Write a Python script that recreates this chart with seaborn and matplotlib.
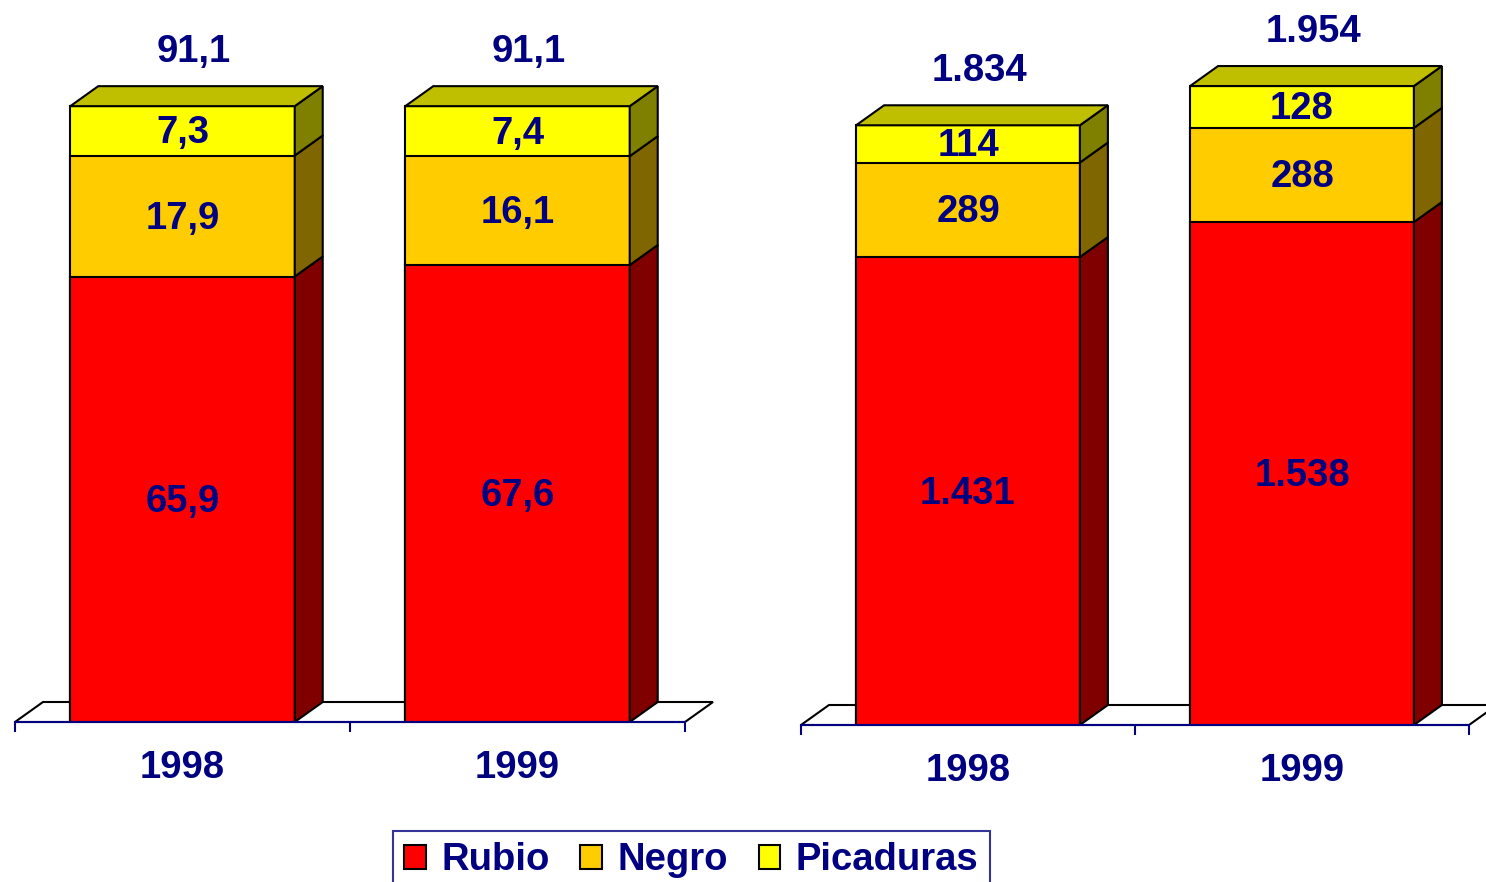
import matplotlib
matplotlib.use("Agg")
import matplotlib.pyplot as plt
from matplotlib.patches import Polygon, Patch
import numpy as np
import pandas as pd
import seaborn as sns

# ---- data -------------------------------------------------------------
years = ["1998", "1999"]
series = ["Rubio", "Negro", "Picaduras"]

left_rubio = [65.9, 67.6]
left_negro = [17.9, 16.1]
left_picaduras = [7.3, 7.4]

right_rubio = [1431, 1538]
right_negro = [289, 288]
right_picaduras = [114, 128]

# ---- style ------------------------------------------------------------
front_colors = ["#FF0000", "#FFCC00", "#FFFF00"]
side_colors = ["#800000", "#806600", "#808000"]
top_color = "#BFBF00"
navy = "#000080"

W, H, DPI = 1486, 882, 100
BAR_W = 0.67
DX_PX, DY_PX = 28, 20
FS = 27.5

sns.set_theme(style="white")
plt.rcParams["font.family"] = ["Liberation Sans", "DejaVu Sans"]

fig = plt.figure(figsize=(W / DPI, H / DPI), dpi=DPI)


def fmt_dec(v):
    return f"{v:.1f}".replace(".", ",")


def fmt_int(v):
    return f"{int(round(v)):,}".replace(",", ".")


def panel(x_px, base_px, w_px, h_px, ymax, stacks, fmt):
    ax = fig.add_axes([x_px / W, (H - base_px) / H, w_px / W, h_px / H])
    stacks = np.asarray(stacks, dtype=float)
    cum = np.cumsum(stacks, axis=0)

    # front faces: stacked by overdrawing cumulative totals, top segment first
    for i in reversed(range(len(series))):
        df = pd.DataFrame({"year": years, "value": cum[i]})
        sns.barplot(data=df, x="year", y="value", color=front_colors[i],
                    saturation=1, width=BAR_W, edgecolor="black",
                    linewidth=1.5, ax=ax, zorder=3)

    ax.set_xlim(-0.5, 1.5)
    ax.set_ylim(0, ymax)
    dx = DX_PX / w_px * 2.0
    dy = DY_PX / h_px * ymax

    # floor of the 3-D box
    floor = Polygon([(-0.5, 0), (-0.5 + dx, dy), (1.5 + dx, dy), (1.5, 0)],
                    closed=True, facecolor="white", edgecolor="black",
                    linewidth=1.5, zorder=1, clip_on=False)
    ax.add_patch(floor)

    for j in range(len(years)):
        x0 = j - BAR_W / 2
        x1 = j + BAR_W / 2
        for i in range(len(series)):
            y0 = cum[i - 1][j] if i > 0 else 0.0
            y1 = cum[i][j]
            side = Polygon([(x1, y0), (x1 + dx, y0 + dy), (x1 + dx, y1 + dy), (x1, y1)],
                           closed=True, facecolor=side_colors[i], edgecolor="black",
                           linewidth=1.5, zorder=3, clip_on=False)
            ax.add_patch(side)
            ax.annotate(fmt(stacks[i][j]), xy=(j, (y0 + y1) / 2), xytext=(0, -1.8),
                        textcoords="offset points", ha="center", va="center",
                        color=navy, fontsize=FS, fontweight="bold", zorder=5)
        ytop = cum[-1][j]
        top = Polygon([(x0, ytop), (x0 + dx, ytop + dy), (x1 + dx, ytop + dy), (x1, ytop)],
                      closed=True, facecolor=top_color, edgecolor="black",
                      linewidth=1.5, zorder=3, clip_on=False)
        ax.add_patch(top)
        ax.annotate(fmt(ytop), xy=(j + dx * 0.4, ytop + dy), xytext=(0, 24.5),
                    textcoords="offset points", ha="center", va="center",
                    color=navy, fontsize=FS, fontweight="bold", annotation_clip=False)

    for s in ["left", "top", "right"]:
        ax.spines[s].set_visible(False)
    ax.spines["bottom"].set_color(navy)
    ax.spines["bottom"].set_linewidth(1.5)
    ax.spines["bottom"].set_zorder(4)
    ax.set_xlabel("")
    ax.set_ylabel("")
    ax.set_yticks([])
    ax.set_xticks([-0.5, 0.5, 1.5])
    ax.set_xticklabels(["", "", ""])
    ax.set_xticks([0, 1], minor=True)
    ax.set_xticklabels(years, minor=True)
    ax.tick_params(axis="x", which="major", length=7.2, width=1.5, color=navy,
                   direction="out", bottom=True)
    ax.tick_params(axis="x", which="minor", length=0, pad=20, labelsize=FS,
                   labelcolor=navy, bottom=True)
    for lab in ax.get_xticklabels(minor=True):
        lab.set_fontweight("bold")
    ax.patch.set_alpha(0)
    return ax


panel(15, 722, 670, 676, 100,
      [left_rubio, left_negro, left_picaduras], fmt_dec)
panel(801, 725, 668, 654, 2000,
      [right_rubio, right_negro, right_picaduras], fmt_int)

handles = [Patch(facecolor=c, edgecolor="black", linewidth=1.5) for c in front_colors]
leg = fig.legend(handles, series, loc="upper left",
                 bbox_to_anchor=(393 / W, 1 - 831 / H), ncol=3, frameon=True,
                 fancybox=False, edgecolor=navy,
                 prop={"weight": "bold", "size": FS}, labelcolor=navy,
                 handlelength=0.57, handleheight=0.57, handletextpad=0.4,
                 columnspacing=0.8, borderpad=0.3, borderaxespad=0)
leg.get_frame().set_linewidth(1.5)

fig.savefig("out.png", dpi=DPI)
